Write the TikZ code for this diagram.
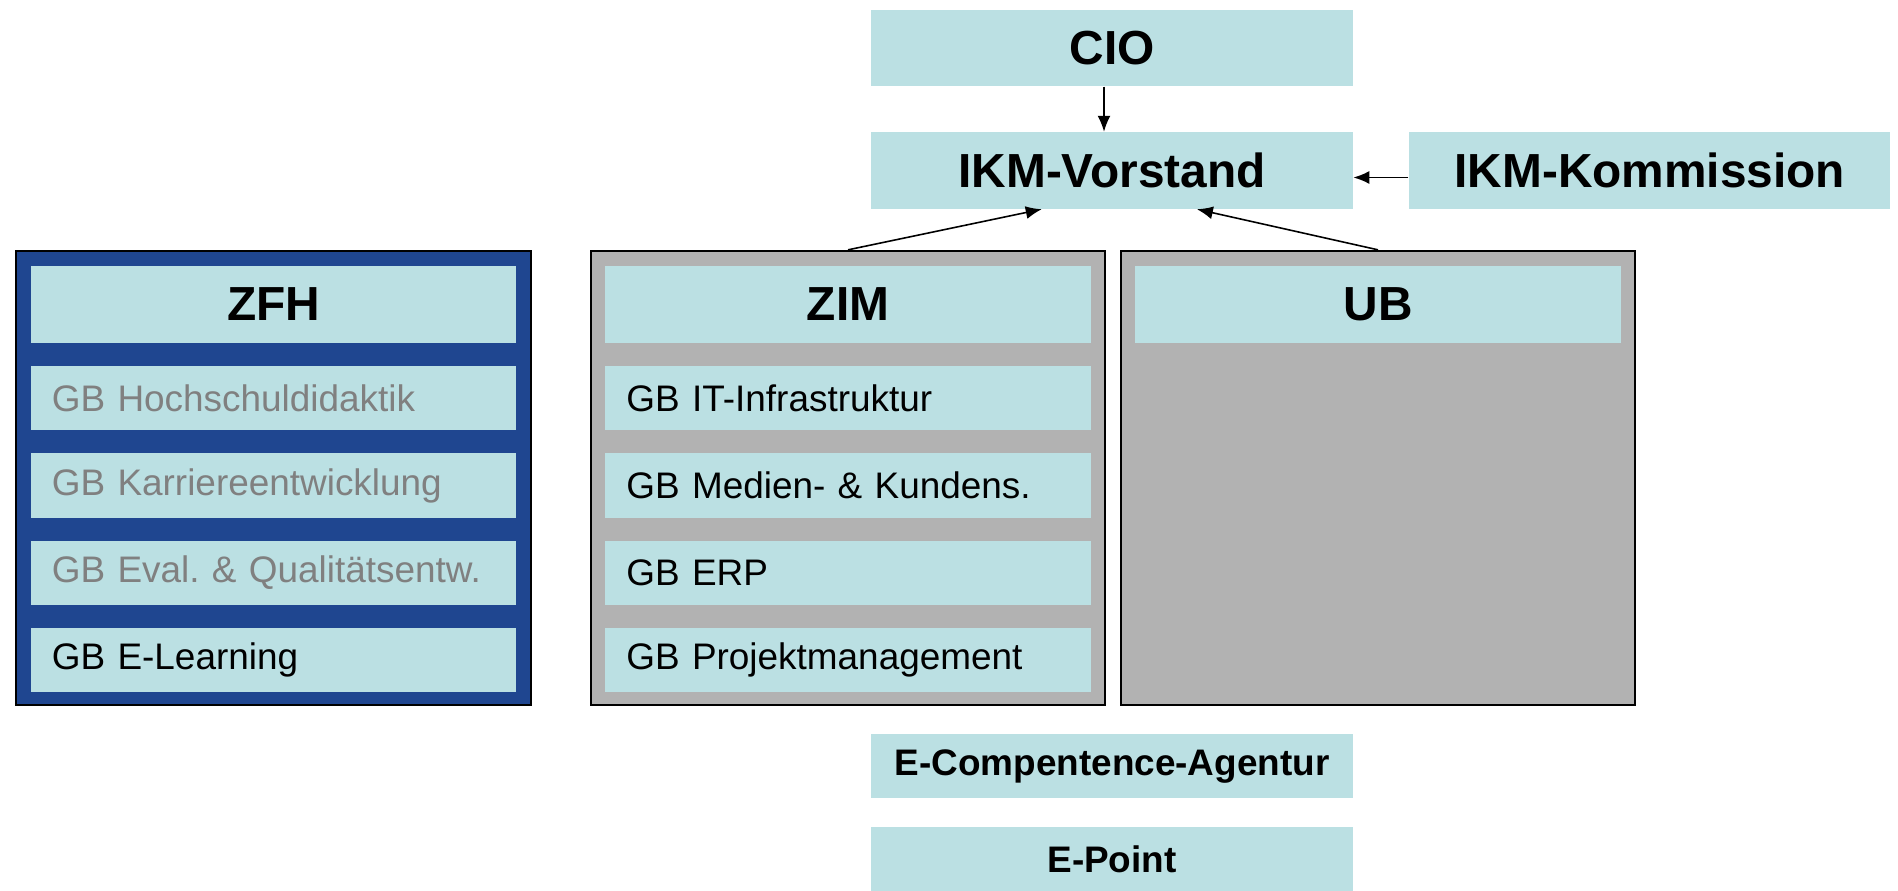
\documentclass[tikz,border=0pt]{standalone}
\usepackage{fontspec}
\setmainfont{Liberation Sans}
\usetikzlibrary{arrows.meta,positioning}

\definecolor{lightcyan}{HTML}{BBE0E3}
\definecolor{zfhblue}{HTML}{1F4690}
\definecolor{panelgray}{HTML}{B2B2B2}
\definecolor{fadedtext}{HTML}{808080}

\begin{document}
\frenchspacing
\begin{tikzpicture}[x=0.01cm,y=-0.01cm,% one unit = one pixel of the original chart
        cell/.style={fill=lightcyan, inner sep=0pt, minimum width=4.81cm, minimum height=0.76cm,
                font=\fontsize{13.6}{16}\selectfont\bfseries},
        smallcell/.style={cell, minimum height=0.64cm, font=\fontsize{10.5}{12.6}\selectfont\bfseries},
        panel/.style={draw=black, line width=0.6pt, inner sep=0pt, minimum width=5.14cm, minimum height=4.54cm},
        head/.style={cell, minimum width=4.85cm, minimum height=0.77cm},
        item/.style={fill=lightcyan, inner xsep=0.21cm, inner ysep=0pt, text width=4.43cm,
                minimum height=0.64cm, align=left, font=\fontsize{10.5}{12.6}\selectfont},
        conn/.style={-{Latex[length=1.6mm,width=1.3mm]}, line width=0.45pt}]
\useasboundingbox (0,0) rectangle (1898,890);

% top of the chart
\node[cell] (cio) at (1112,48) {CIO};
\node[cell, below=0.45cm of cio] (vor) {IKM-Vorstand};
\node[cell, right=0.55cm of vor] (kom) {IKM-Kommission};

% the three units
\node[panel, fill=zfhblue] (zfh) at (273.5,478) {};
\node[panel, fill=panelgray] (zim) at (848,478) {};
\node[panel, fill=panelgray] (ub) at (1378,478) {};

\node[head, below=0.15cm of zfh.north] (zfh-0) {ZFH};
\node[head, below=0.15cm of zim.north] (zim-0) {ZIM};
\node[head, below=0.15cm of ub.north] (ub-0) {UB};

\foreach[count=\i] \t/\c in {GB Hochschuldidaktik/fadedtext,GB Karriereentwicklung/fadedtext,%
        GB Eval. \& Qualitätsentw./fadedtext,GB E-Learning/black}{ %\i counts, \c is the text colour
\pgfmathtruncatemacro{\prev}{\i-1}
\node[item, text=\c, below=0.22cm of zfh-\prev] (zfh-\i) {\t};
}
\foreach[count=\i] \t in {GB IT-Infrastruktur,GB Medien- \& Kundens.,GB ERP,GB Projektmanagement}{
\pgfmathtruncatemacro{\prev}{\i-1}
\node[item, below=0.22cm of zim-\prev] (zim-\i) {\t};
}

% bottom
\node[smallcell] (eca) at (1112,766) {E-Compentence-Agentur};
\node[smallcell, below=0.28cm of eca] (epoint) {E-Point};

% reporting lines
\draw[conn] ([xshift=-0.08cm]cio.south) -- ([xshift=-0.08cm]vor.north);
\draw[conn] ([yshift=-0.07cm]kom.west) -- ([yshift=-0.07cm]vor.east);
\draw[conn] (zim.north) -- ([xshift=1.71cm]vor.south west);
\draw[conn] (ub.north) -- ([xshift=3.26cm]vor.south west);
\end{tikzpicture}
\end{document}
